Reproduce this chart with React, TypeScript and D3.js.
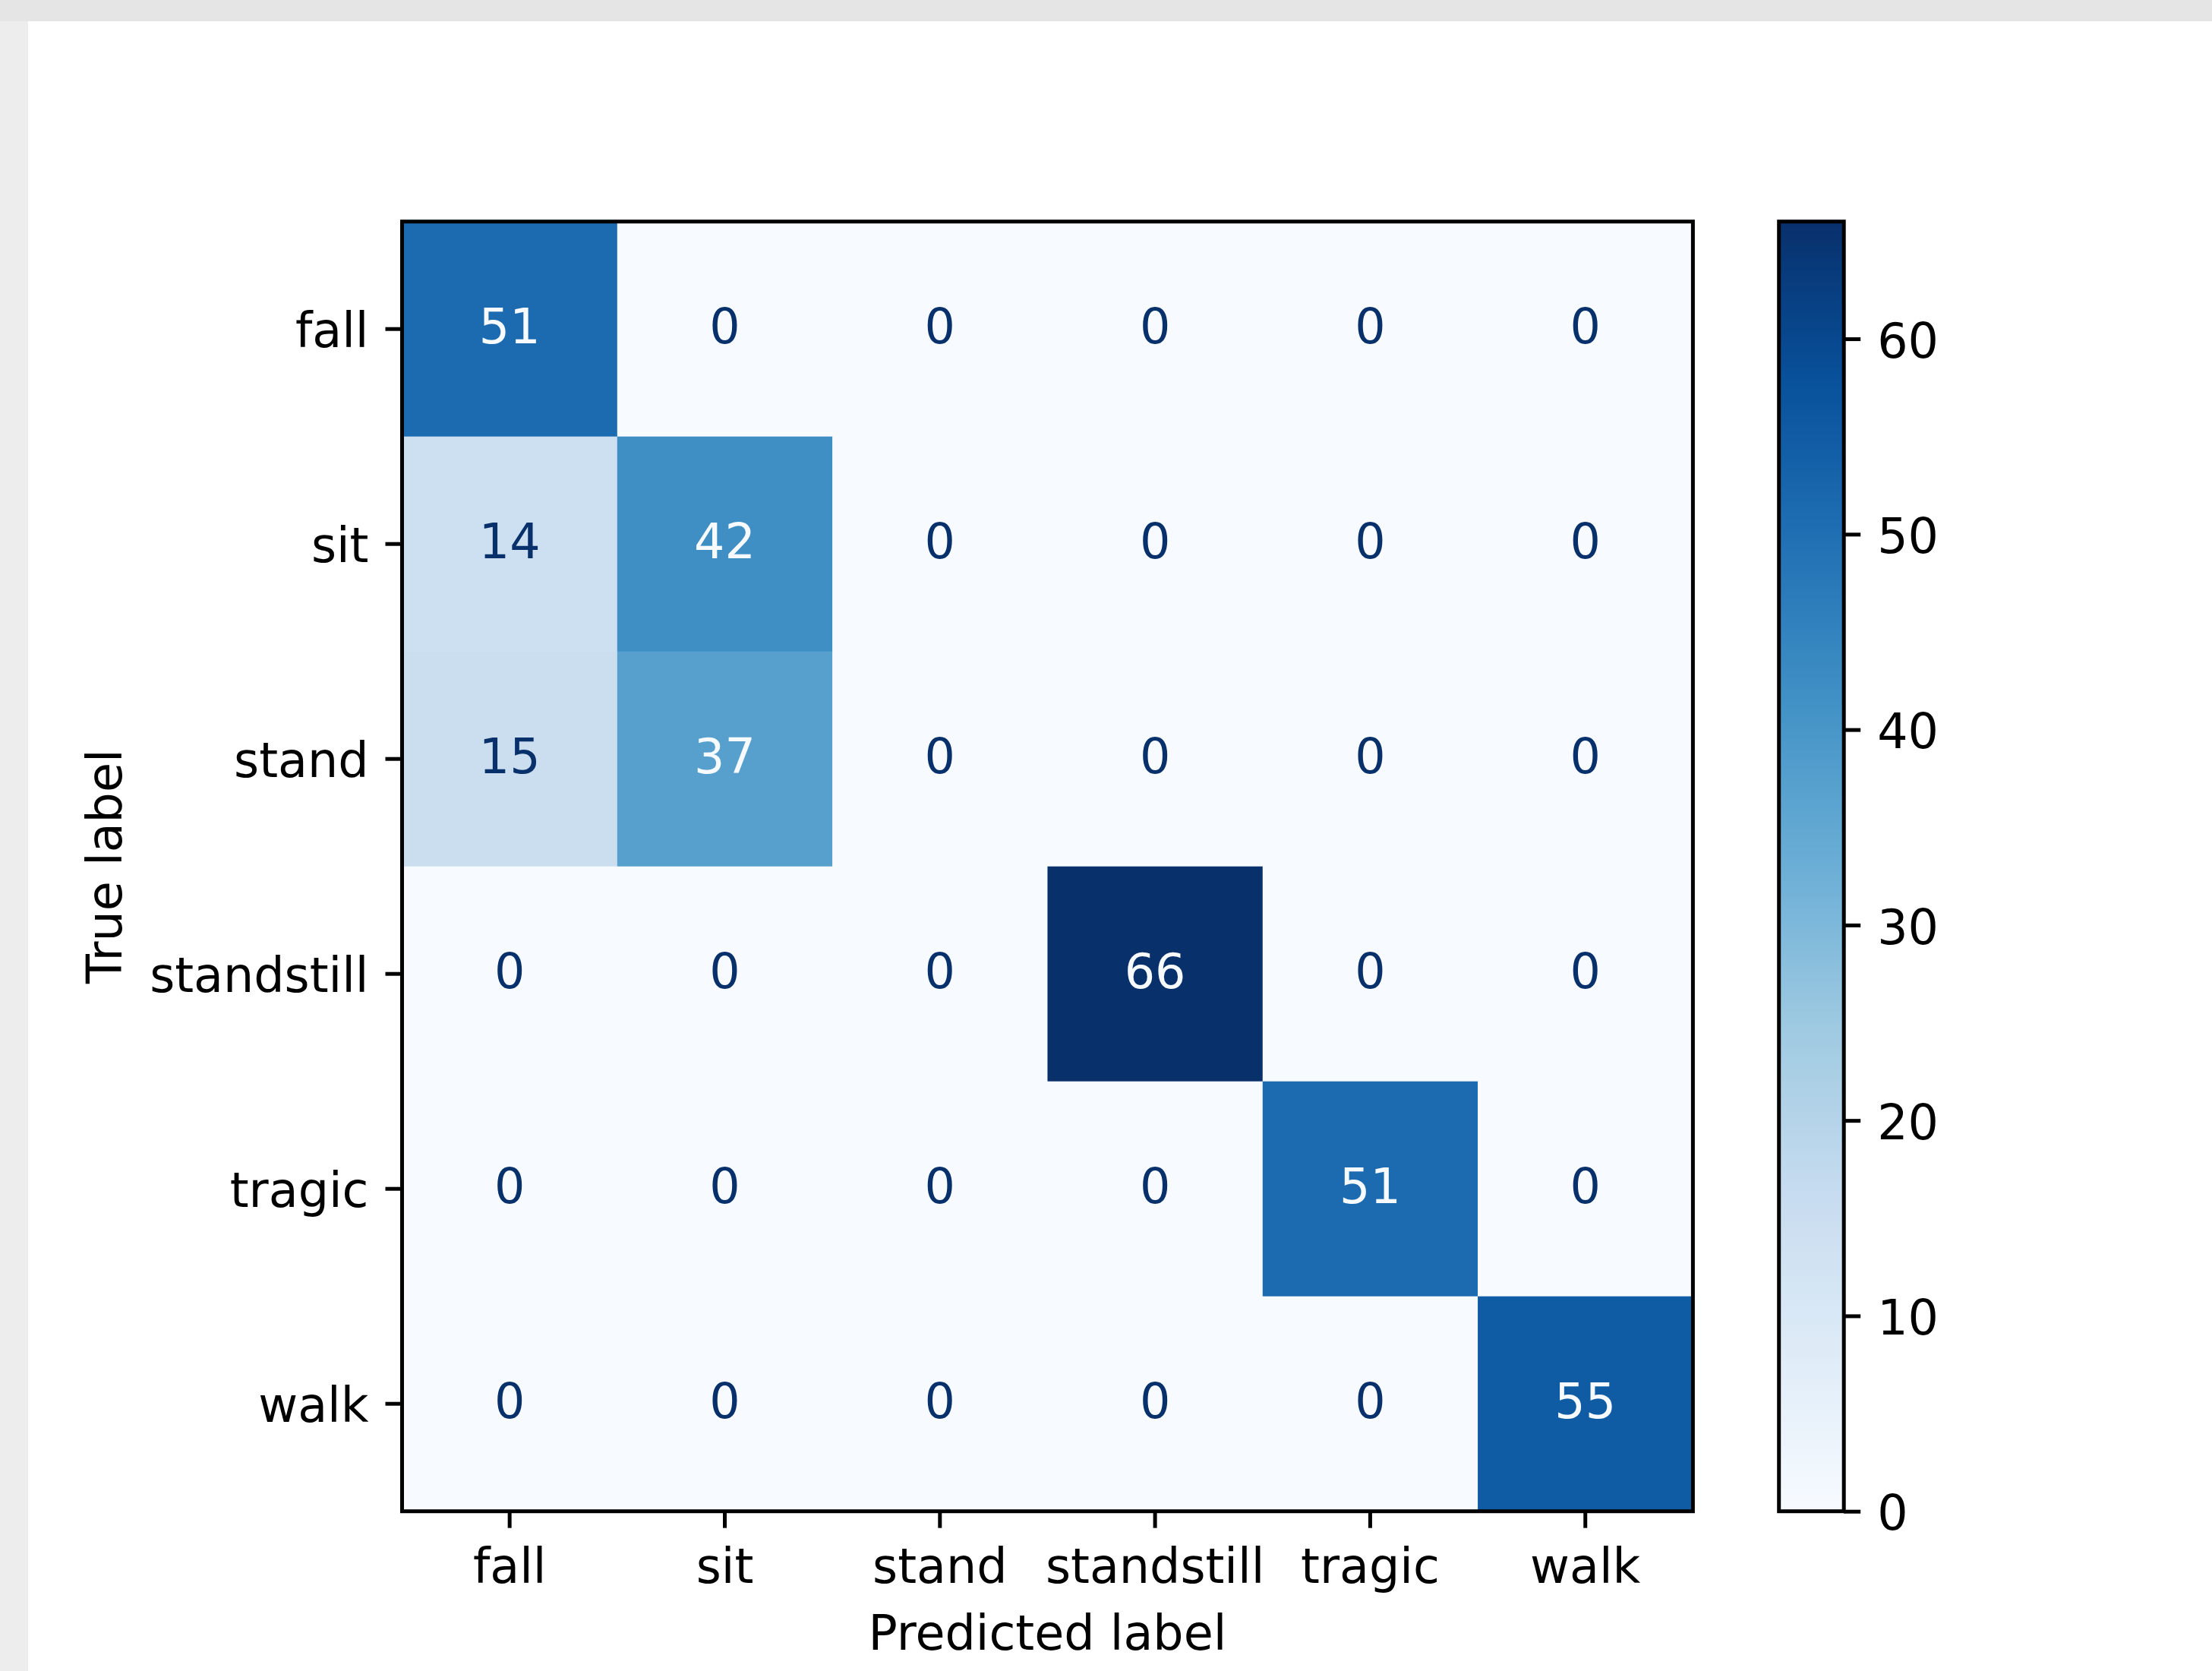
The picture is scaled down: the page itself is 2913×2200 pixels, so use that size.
import React, { useEffect, useRef } from 'react'
import * as d3 from 'd3'

// class labels (rows = true, columns = predicted)
const classes = ['fall', 'sit', 'stand', 'standstill', 'tragic', 'walk']
const fallRow = [51, 0, 0, 0, 0, 0]
const sitRow = [14, 42, 0, 0, 0, 0]
const standRow = [15, 37, 0, 0, 0, 0]
const standstillRow = [0, 0, 0, 66, 0, 0]
const tragicRow = [0, 0, 0, 0, 51, 0]
const walkRow = [0, 0, 0, 0, 0, 55]
const cbarTicks = [0, 10, 20, 30, 40, 50, 60]
const bluesStops = ['#f7fbff', '#deebf7', '#c6dbef', '#9ecae1', '#6baed6', '#4292c6', '#2171b5', '#08519c', '#08306b']

export default function App() {
  const ref = useRef<SVGSVGElement>(null)
  useEffect(() => {
    const el = ref.current
    if (!el) return
    const W = 2913, H = 2200
    const fs = 63.5
    const font = 'DejaVu Sans, sans-serif'
    const rows = [fallRow, sitRow, standRow, standstillRow, tragicRow, walkRow]
    const cells = rows.flatMap((r, i) => r.map((v, j) => ({ t: classes[i], p: classes[j], v })))
    const vmin = 0, vmax = d3.max(cells, d => d.v) as number

    const L = 529.5, R = 2229.4, T = 291.7, B = 1989.7
    const cbL = 2342.7, cbR = 2428.2
    const tick = 22, pad = 22

    const svg = d3.select(el)
    svg.selectAll('*').remove()
    svg.attr('width', W).attr('height', H)

    // page background with grey borders
    svg.append('rect').attr('width', W).attr('height', H).attr('fill', '#ffffff')
    svg.append('rect').attr('x', 0).attr('y', 0).attr('width', 37).attr('height', H).attr('fill', '#ededed')
    svg.append('rect').attr('x', 0).attr('y', 0).attr('width', W).attr('height', 28).attr('fill', '#e5e5e5')

    const x = d3.scaleBand<string>().domain(classes).range([L, R])
    const y = d3.scaleBand<string>().domain(classes).range([T, B])
    const color = d3.scaleLinear<string>()
      .domain(bluesStops.map((_, i) => vmin + (vmax - vmin) * i / (bluesStops.length - 1)))
      .range(bluesStops)
      .interpolate(d3.interpolateRgb)
    const thresh = (vmax + vmin) / 2

    const g = svg.append('g')
    g.selectAll('rect.cell').data(cells).enter().append('rect')
      .attr('class', 'cell')
      .attr('x', d => x(d.p) as number).attr('y', d => y(d.t) as number)
      .attr('width', x.bandwidth() + 0.5).attr('height', y.bandwidth() + 0.5)
      .attr('fill', d => color(d.v))
    g.selectAll('text.val').data(cells).enter().append('text')
      .attr('class', 'val')
      .attr('x', d => (x(d.p) as number) + x.bandwidth() / 2)
      .attr('y', d => (y(d.t) as number) + y.bandwidth() / 2)
      .attr('dy', '0.29em')
      .attr('text-anchor', 'middle')
      .attr('font-family', font).attr('font-size', fs)
      .attr('fill', d => d.v < thresh ? bluesStops[8] : bluesStops[0])
      .text(d => d.v)

    svg.append('rect').attr('x', L).attr('y', T).attr('width', R - L).attr('height', B - T)
      .attr('fill', 'none').attr('stroke', '#000').attr('stroke-width', 5)

    // axes
    const ax = svg.append('g').attr('transform', `translate(0,${B})`)
      .call(d3.axisBottom(x).tickSize(tick).tickPadding(pad))
    const ay = svg.append('g').attr('transform', `translate(${L},0)`)
      .call(d3.axisLeft(y).tickSize(tick).tickPadding(pad))
    for (const a of [ax, ay]) {
      a.select('.domain').remove()
      a.attr('font-family', font).attr('font-size', fs)
      a.selectAll('line').attr('stroke', '#000').attr('stroke-width', 5)
      a.selectAll('text').attr('fill', '#000')
    }
    ax.selectAll('text').attr('dy', '0.79em')
    ay.selectAll('text').attr('dy', '0.38em')

    svg.append('text').attr('x', (L + R) / 2).attr('y', 2172)
      .attr('text-anchor', 'middle').attr('font-family', font).attr('font-size', fs)
      .text('Predicted label')
    svg.append('text').attr('transform', `translate(160,${(T + B) / 2}) rotate(-90)`)
      .attr('text-anchor', 'middle').attr('font-family', font).attr('font-size', fs)
      .text('True label')

    // colorbar
    const cy = d3.scaleLinear().domain([vmin, vmax]).range([B, T])
    const defs = svg.append('defs')
    const grad = defs.append('linearGradient').attr('id', 'cbgrad')
      .attr('x1', 0).attr('y1', 1).attr('x2', 0).attr('y2', 0)
    d3.range(0, 1.0001, 0.02).forEach(t => {
      grad.append('stop').attr('offset', t).attr('stop-color', color(vmin + t * (vmax - vmin)))
    })
    svg.append('rect').attr('x', cbL).attr('y', T).attr('width', cbR - cbL).attr('height', B - T)
      .attr('fill', 'url(#cbgrad)').attr('stroke', '#000').attr('stroke-width', 5)
    const ac = svg.append('g').attr('transform', `translate(${cbR},0)`)
      .call(d3.axisRight(cy).tickValues(cbarTicks).tickSize(tick).tickPadding(pad))
    ac.select('.domain').remove()
    ac.attr('font-family', font).attr('font-size', fs)
    ac.selectAll('line').attr('stroke', '#000').attr('stroke-width', 5)
    ac.selectAll('text').attr('fill', '#000').attr('dy', '0.38em')
  }, [])

  return (
    <svg ref={ref} style={{ position: 'absolute', left: 0, top: 0, display: 'block' }} />
  )
}
